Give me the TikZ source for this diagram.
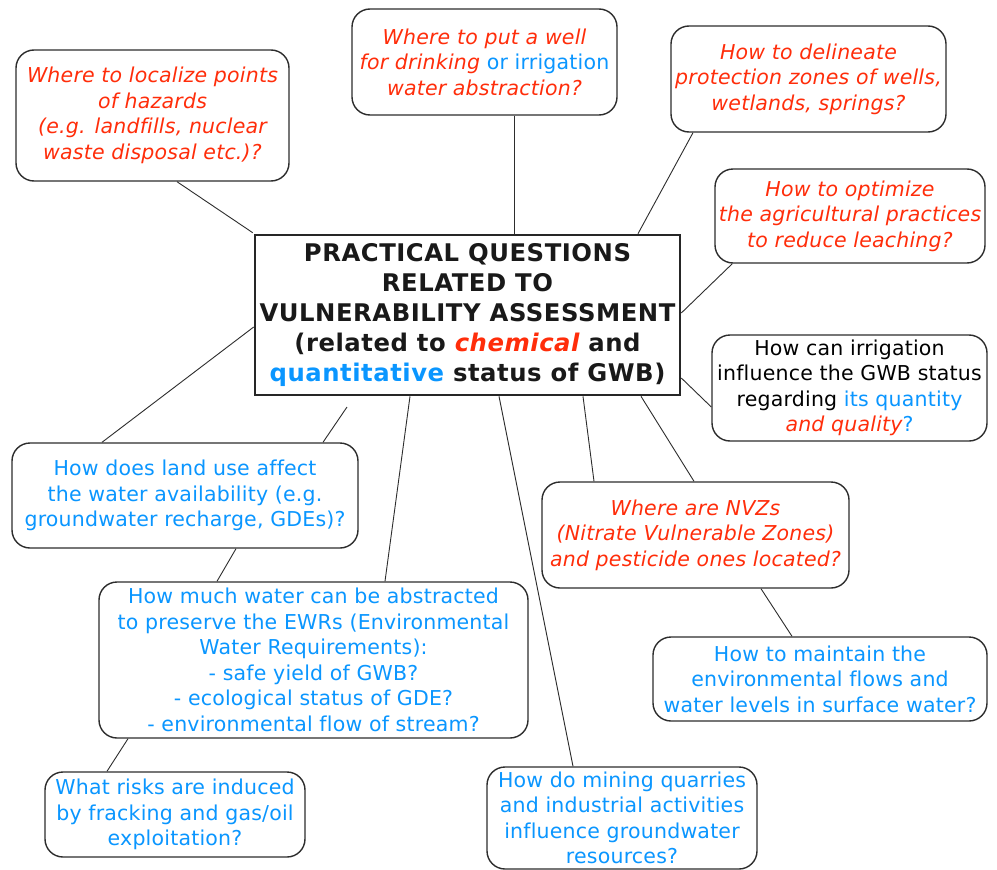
\documentclass[tikz,border=0pt]{standalone}
\usepackage{fontspec}
\setmainfont{DejaVu Sans}[Ligatures=NoCommon, LetterSpace=1]
\newfontfamily\headfont{DejaVu Sans}[Ligatures=NoCommon, LetterSpace=2.2]
\definecolor{qred}{RGB}{255,45,10}
\definecolor{qblue}{RGB}{10,150,255}
\definecolor{edgec}{RGB}{45,45,45}
\begin{document}
\begin{tikzpicture}[x=1pt,y=-1pt,
  qbox/.style={draw=edgec, line width=1.4pt, rounded corners=18pt, inner sep=0pt,
    align=center, fill=white, font=\fontsize{20.5}{25.5}\selectfont},
  redq/.style={text=qred, font=\fontsize{20.5}{25.5}\selectfont\itshape},
  blueq/.style={text=qblue},
  mainbox/.style={draw=black!85, line width=2.6pt, inner sep=0pt, align=center, fill=white,
    text=black!90, font=\headfont\fontsize{24.3}{30}\selectfont\bfseries},
  link/.style={draw=edgec, line width=0.9pt}]
\useasboundingbox (0,0) rectangle (997,870);
\fill[white] (0,0) rectangle (997,870);

\node[mainbox, minimum width=425pt, minimum height=160pt] (cen) at (467.5,315)
  {PRACTICAL QUESTIONS\\RELATED TO\\VULNERABILITY ASSESSMENT\\(related to \textcolor{qred}{\itshape chemical} and\\\textcolor{qblue}{quantitative} status of GWB)};

\node[qbox, redq, minimum width=273pt, minimum height=131pt] (haz) at (152.5,115.5)
  {Where to localize points\\of hazards\\(e.g. landfills, nuclear\\waste disposal etc.)?};
\node[qbox, minimum width=265pt, minimum height=106pt] (well) at (484.5,62)
  {\textcolor{qred}{\itshape Where to put a well}\\\textcolor{qred}{\itshape for drinking} \textcolor{qblue}{or irrigation}\\\textcolor{qred}{\itshape water abstraction?}};
\node[qbox, redq, minimum width=275pt, minimum height=106pt] (del) at (808.5,79)
  {How to delineate\\protection zones of wells,\\wetlands, springs?};
\node[qbox, redq, minimum width=270pt, minimum height=94pt] (opt) at (850,216)
  {How to optimize\\the agricultural practices\\to reduce leaching?};
\node[qbox, minimum width=275pt, minimum height=106pt] (irr) at (849.5,388)
  {How can irrigation\\influence the GWB status\\regarding \textcolor{qblue}{its quantity}\\\textcolor{qred}{\itshape and quality}\textcolor{qblue}{?}};
\node[qbox, blueq, minimum width=346pt, minimum height=105pt] (land) at (185,495.5)
  {How does land use affect\\the water availability (e.g.\\groundwater recharge, GDEs)?};
\node[qbox, blueq, minimum width=429pt, minimum height=156pt] (much) at (313.5,660)
  {How much water can be abstracted\\to preserve the EWRs (Environmental\\Water Requirements):\\- safe yield of GWB?\\- ecological status of GDE?\\- environmental flow of stream?};
\node[qbox, redq, minimum width=307pt, minimum height=106pt] (nvz) at (695.5,535)
  {Where are NVZs\\(Nitrate Vulnerable Zones)\\and pesticide ones located?};
\node[qbox, blueq, minimum width=334pt, minimum height=84pt] (mnt) at (820,679)
  {How to maintain the\\environmental flows and\\water levels in surface water?};
\node[qbox, blueq, minimum width=260pt, minimum height=85pt] (frk) at (175,814.5)
  {What risks are induced\\by fracking and gas/oil\\exploitation?};
\node[qbox, blueq, minimum width=270pt, minimum height=102pt] (mine) at (622,818)
  {How do mining quarries\\and industrial activities\\influence groundwater\\resources?};

\coordinate (free) at (347,407);

\draw[link] ([xshift=24.5pt]haz.south) -- ([shift={(-1pt,1pt)}]cen.north west);
\draw[link] ([xshift=29.5pt]well.south) -- ([xshift=46.5pt]cen.north);
\draw[link] ([xshift=-115.5pt]del.south) -- ([xshift=170.5pt]cen.north);
\draw[link] ([xshift=18pt]opt.south west) -- ([yshift=2pt]cen.east);
\draw[link] ([yshift=-19pt]irr.west) -- ([yshift=-63pt]cen.east);
\draw[link] ([xshift=-83pt]land.north) -- ([yshift=-12pt]cen.west);
\draw[link] (free) -- ([xshift=138pt]land.north);
\draw[link] ([xshift=-57.5pt]cen.south) -- ([xshift=71.5pt]much.north);
\draw[link] ([xshift=31.5pt]cen.south) -- ([xshift=-49pt]mine.north);
\draw[link] ([xshift=115.5pt]cen.south) -- ([xshift=-101.5pt]nvz.north);
\draw[link] ([xshift=173.5pt]cen.south) -- ([xshift=-1.5pt]nvz.north);
\draw[link] ([xshift=65.5pt]nvz.south) -- ([xshift=-28pt]mnt.north);
\draw[link] ([xshift=51pt]land.south) -- ([xshift=-96.5pt]much.north);
\draw[link] ([xshift=-185.5pt]much.south) -- ([xshift=-68pt]frk.north);
\end{tikzpicture}
\end{document}
